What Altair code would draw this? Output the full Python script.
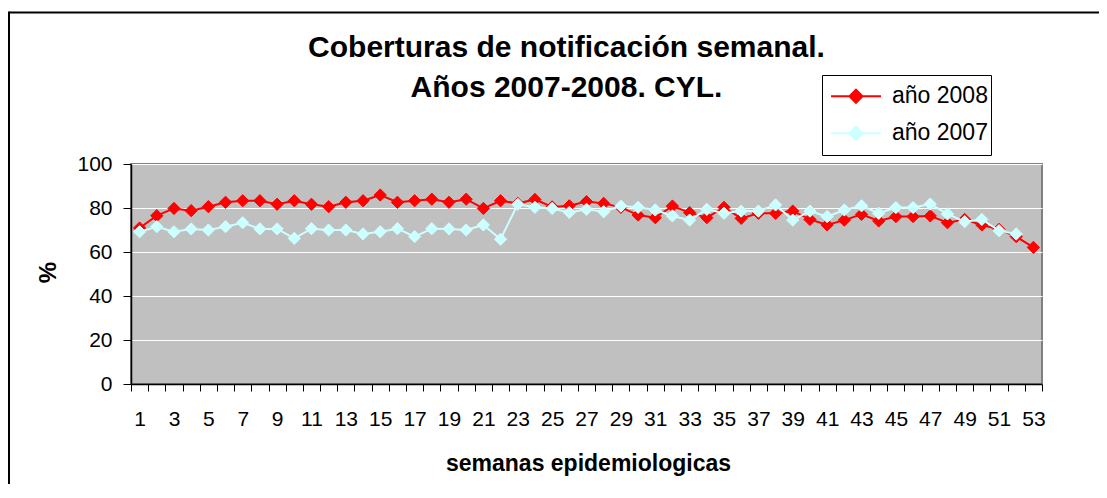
import altair as alt
import pandas as pd

# ---- data ----
weeks = list(range(1, 54))
v2008 = [70.9, 76.5, 79.8, 78.8, 80.6, 82.6, 83.3, 83.3, 81.7, 83.3,
         81.7, 80.6, 82.6, 83.3, 85.9, 82.6, 83.3, 84.0, 82.6, 84.0,
         79.8, 83.3, 82.1, 83.9, 80.5, 81.0, 82.9, 82.1, 80.3, 76.8,
         75.6, 80.9, 77.9, 75.6, 80.3, 75.3, 77.6, 77.6, 78.6, 74.8,
         72.3, 74.5, 77.1, 74.1, 76.1, 76.1, 76.4, 73.3, 74.8, 72.3,
         70.3, 67.0, 62.1]
v2007 = [69.2, 71.5, 69.2, 70.5, 70.0, 71.5, 73.3, 70.5, 70.5, 66.2,
         70.6, 70.0, 70.0, 68.2, 69.2, 70.6, 67.0, 70.6, 70.5, 70.0,
         72.3, 65.8, 81.7, 80.3, 79.8, 78.0, 79.4, 78.3, 80.9, 80.3,
         79.1, 76.4, 74.5, 79.4, 77.6, 78.6, 78.6, 81.4, 74.5, 78.6,
         76.1, 79.1, 81.0, 77.6, 80.2, 80.2, 81.8, 77.3, 73.8, 74.8,
         69.7, 68.2]
series_names = ["año 2008", "año 2007"]
series_colors = ["#FF0000", "#CCFFFF"]
y_ticks = [0, 20, 40, 60, 80, 100]
title_lines = ["Coberturas de notificación semanal.", "Años 2007-2008. CYL."]
x_title = "semanas epidemiologicas"
y_title = "%"

df = pd.concat([
    pd.DataFrame({"semana": weeks[:len(v2008)], "valor": v2008, "serie": series_names[0]}),
    pd.DataFrame({"semana": weeks[:len(v2007)], "valor": v2007, "serie": series_names[1]}),
], ignore_index=True)

FONT = "Liberation Sans"
W, H = 911, 220

color_scale = alt.Scale(domain=series_names, range=series_colors)
legend = alt.Legend(
    title=None, orient="none", legendX=691, legendY=-89, direction="vertical",
    symbolType="M-1,0L1,0M-0.26,0L0,-0.26L0.26,0L0,0.26Z",
    symbolSize=2500, symbolStrokeWidth=2, labelFontSize=23, labelFont=FONT,
    labelColor="#000000", padding=3, clipHeight=36.5, rowPadding=0,
    symbolOffset=5, labelOffset=10, strokeColor="#000000", fillColor="#FFFFFF",
    labelLimit=300,
)

x_enc = alt.X(
    "semana:O",
    scale=alt.Scale(type="band", paddingInner=0, paddingOuter=0),
    axis=alt.Axis(
        title=x_title, labelExpr="datum.value % 2 == 1 ? datum.label : ''",
        labelAngle=0, tickBand="extent", tickSize=7, labelPadding=34,
        labelBaseline="alphabetic", labelFontSize=21, grid=False,
        titleX=457, titleY=86, titleBaseline="alphabetic", titleAlign="center",
        titleFontSize=23, titleFontWeight="bold",
    ),
)
y_enc = alt.Y(
    "valor:Q",
    scale=alt.Scale(domain=[0, 100], nice=False, zero=True),
    axis=alt.Axis(
        title=y_title, values=y_ticks, grid=True, gridColor="#FFFFFF", gridWidth=1,
        tickSize=8, labelPadding=11, labelFontSize=21,
        titleX=-83, titleY=108, titleAngle=270, titleBaseline="middle",
        titleAlign="center", titleFontSize=24, titleFontWeight="bold",
    ),
)

frame_df = pd.DataFrame({"f": [0]})
frame_top = alt.Chart(frame_df).mark_rule(stroke="#000000", strokeWidth=2).encode(
    x=alt.value(-122), x2=alt.value(2000), y=alt.value(-151.5))
frame_left = alt.Chart(frame_df).mark_rule(stroke="#000000", strokeWidth=2).encode(
    x=alt.value(-122), y=alt.value(-152.5), y2=alt.value(2000))

layers = [frame_top, frame_left]
for name in series_names:
    base = alt.Chart(df).transform_filter(alt.datum.serie == name)
    line = base.mark_line(strokeWidth=2).encode(
        x=x_enc, y=y_enc,
        stroke=alt.Stroke("serie:N", scale=color_scale, legend=legend),
    )
    pts = base.mark_point(shape="diamond", filled=True, size=150, opacity=1, strokeWidth=1).encode(
        x=x_enc, y=y_enc,
        fill=alt.Fill("serie:N", scale=color_scale, legend=legend),
        stroke=alt.Stroke("serie:N", scale=color_scale, legend=legend),
    )
    layers += [line, pts]

chart = alt.layer(*layers).properties(
    width=W, height=H,
    background="#FFFFFF",
    title=alt.Title(
        text=title_lines, fontSize=30, font=FONT, fontWeight="bold", color="#000000",
        anchor="middle", dx=-20, dy=92, offset=0, lineHeight=40,
    ),
    autosize=alt.AutoSizeParams(type="none"),
    padding={"left": 123, "top": 156, "right": 57, "bottom": 100},
).configure_view(
    fill="#C0C0C0", stroke="#808080", strokeWidth=2,
).configure_axis(
    domainColor="#000000", tickColor="#000000", labelColor="#000000",
    titleColor="#000000", labelFont=FONT, titleFont=FONT, domainWidth=1.5,
)

chart.save("out.html", embed_options={"renderer": "svg", "actions": False})
